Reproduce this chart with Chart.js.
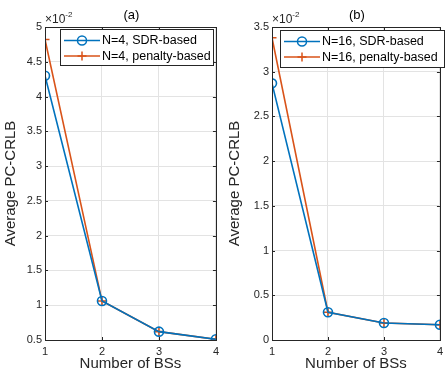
<!DOCTYPE html>
<html><head><meta charset="utf-8">
<script src="https://cdn.jsdelivr.net/npm/chart.js@4"></script>
<style>
html,body{margin:0;padding:0;background:#fff;}
#wrap{position:relative;width:448px;height:377px;}
canvas{position:absolute;top:0;}
</style></head>
<body><div id="wrap">
<canvas id="ca" width="224" height="377" style="left:0;width:224px;height:377px"></canvas>
<canvas id="cb" width="224" height="377" style="left:224px;width:224px;height:377px"></canvas>
</div>
<script>
// Data (values in units of 1e-2)
const numBSs = [1, 2, 3, 4];
const aSDR = [4.30, 1.06, 0.62, 0.51];
const aPenalty = [4.82, 1.06, 0.62, 0.51];
const bSDR = [2.87, 0.31, 0.19, 0.17];
const bPenalty = [3.38, 0.31, 0.19, 0.17];
const aLabels = ['N=4, SDR-based', 'N=4, penalty-based'];
const bLabels = ['N=16, SDR-based', 'N=16, penalty-based'];
const titles = ['(a)', '(b)'];
const xTitle = 'Number of BSs';
const yTitle = 'Average PC-CRLB';
const aTicks = {min: 0.5, max: 5, step: 0.5};
const bTicks = {min: 0, max: 3.5, step: 0.5};

const FONT = '"Liberation Sans", Arial, sans-serif';
const BLUE = '#0072BD', ORANGE = '#D95319', AX = '#262626';

function fmt(v){ return (Math.round(v*10)/10).toString(); }

const decor = {
  id: 'decor',
  afterDraw(chart, args, opts) {
    const ctx = chart.ctx, a = chart.chartArea;
    const xs = chart.scales.x, ys = chart.scales.y;
    ctx.save();
    // inward tick marks
    ctx.strokeStyle = AX; ctx.lineWidth = 1;
    ctx.beginPath();
    xs.ticks.forEach(t => {
      const px = Math.round(xs.getPixelForValue(t.value)) + 0.5;
      ctx.moveTo(px, a.bottom); ctx.lineTo(px, a.bottom - 3);
      ctx.moveTo(px, a.top); ctx.lineTo(px, a.top + 3);
    });
    ys.ticks.forEach(t => {
      const py = Math.round(ys.getPixelForValue(t.value)) + 0.5;
      ctx.moveTo(a.left, py); ctx.lineTo(a.left + 3, py);
      ctx.moveTo(a.right, py); ctx.lineTo(a.right - 3, py);
    });
    ctx.stroke();
    // box
    ctx.strokeStyle = AX; ctx.lineWidth = 1;
    ctx.strokeRect(Math.round(a.left)+0.5, Math.round(a.top)+0.5, Math.round(a.right-a.left), Math.round(a.bottom-a.top));
    // title
    ctx.fillStyle = '#000';
    ctx.font = '13px ' + FONT;
    ctx.textAlign = 'center'; ctx.textBaseline = 'alphabetic';
    ctx.fillText(opts.title, (a.left + a.right)/2 + 1, 19);
    // exponent
    ctx.fillStyle = AX;
    ctx.textAlign = 'left';
    ctx.font = '12px ' + FONT;
    ctx.fillText('\u00d710', a.left, 23);
    const w = ctx.measureText('\u00d710').width;
    ctx.font = '8px ' + FONT;
    ctx.fillText('-2', a.left + w, 17);
    // legend
    const L = opts.legend;
    ctx.fillStyle = '#fff';
    ctx.fillRect(L.x, L.y, L.w, L.h);
    ctx.strokeStyle = AX; ctx.lineWidth = 1;
    ctx.strokeRect(L.x + 0.5, L.y + 0.5, L.w, L.h);
    ctx.font = '12.5px ' + FONT;
    ctx.textBaseline = 'middle';
    chart.data.datasets.forEach((ds, i) => {
      const cy = L.y + 11.5 + i * 15.5;
      const x0 = L.x + 4, x1 = L.x + 40;
      ctx.strokeStyle = ds.borderColor; ctx.lineWidth = 1.5;
      ctx.beginPath(); ctx.moveTo(x0, cy); ctx.lineTo(x1, cy); ctx.stroke();
      const mx = (x0 + x1)/2;
      ctx.beginPath();
      if (ds.pointStyle === 'circle') {
        ctx.arc(mx, cy, 4.5, 0, Math.PI*2);
      } else {
        ctx.moveTo(mx - 4.5, cy); ctx.lineTo(mx + 4.5, cy);
        ctx.moveTo(mx, cy - 4.5); ctx.lineTo(mx, cy + 4.5);
      }
      ctx.stroke();
      ctx.fillStyle = '#000';
      ctx.fillText(ds.label, x1 + 2, cy + 0.5);
    });
    ctx.restore();
  }
};

function makeChart(id, sdr, pen, labels, tk, yW, padRight, title, legend) {
  new Chart(document.getElementById(id), {
    type: 'line',
    data: {
      datasets: [
        {label: labels[0], data: numBSs.map((x,i)=>({x, y: sdr[i]})), borderColor: BLUE, backgroundColor: 'rgba(0,0,0,0)',
         borderWidth: 1.6, pointStyle: 'circle', pointRadius: 4.5, pointBorderWidth: 1.6, pointBackgroundColor: 'rgba(0,0,0,0)', pointBorderColor: BLUE, tension: 0},
        {label: labels[1], data: numBSs.map((x,i)=>({x, y: pen[i]})), borderColor: ORANGE, backgroundColor: 'rgba(0,0,0,0)',
         borderWidth: 1.6, pointStyle: 'cross', pointRadius: 4.5, pointBorderWidth: 1.6, pointBorderColor: ORANGE, tension: 0}
      ]
    },
    options: {
      responsive: false, animation: false, devicePixelRatio: 1,
      layout: {padding: {top: 27, right: padRight, left: 0, bottom: 0}},
      plugins: {legend: {display: false}, tooltip: {enabled: false}, decor: {title, legend}},
      scales: {
        x: {type: 'linear', min: 1, max: 4,
            ticks: {stepSize: 1, color: AX, font: {size: 11, family: FONT}, padding: 5, maxRotation: 0},
            grid: {color: '#e3e3e3', drawTicks: false}, border: {display: false},
            title: {display: true, text: xTitle, color: AX, font: {size: 15, family: FONT}, padding: {top: 0}},
            afterFit(s){ s.height = 37; }},
        y: {type: 'linear', min: tk.min, max: tk.max,
            ticks: {stepSize: tk.step, color: AX, font: {size: 11, family: FONT}, padding: 3, callback: v => fmt(v)},
            grid: {color: '#e3e3e3', drawTicks: false}, border: {display: false},
            title: {display: true, text: yTitle, color: AX, font: {size: 15, family: FONT}, padding: {top: 2, bottom: 2}},
            afterFit(s){ s.width = yW; }}
      }
    },
    plugins: [decor]
  });
}

makeChart('ca', aSDR, aPenalty, aLabels, aTicks, 45, 7, titles[0], {x: 60, y: 29, w: 153, h: 36});
makeChart('cb', bSDR, bPenalty, bLabels, bTicks, 48, 4, titles[1], {x: 56, y: 30, w: 164, h: 37});
</script>
</body></html>
